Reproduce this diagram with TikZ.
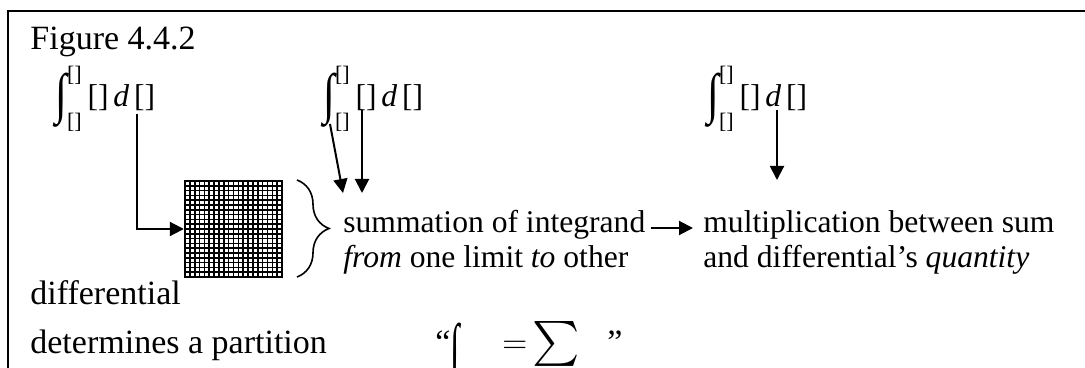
\documentclass[tikz,border=0pt]{standalone}
\usepackage{fontspec}
\setmainfont{Liberation Serif}
\usepackage{amsmath}
\usepackage{graphicx}
\usetikzlibrary{positioning,decorations.pathreplacing,arrows.meta}

\newcommand{\bigint}{\mathop{\vcenter{\hbox{\scalebox{1.35}[1.75]{∫}}}}\nolimits}
\newcommand{\intexpr}{$\bigint_{\text{[]}}^{\text{[]}}\text{[]}\,\textit{d}\,\text{[]}$}

\begin{document}
\begin{tikzpicture}[
    x=0.5pt, y=-0.5pt,
    txt/.style={inner sep=0pt, anchor=base west, text height=10pt, text depth=2.5pt,
                font=\fontsize{15.8}{17.5}\selectfont},
    big/.style={txt, font=\fontsize{17}{19}\selectfont},
    arr/.style={-{Triangle[length=7pt,width=7pt]}, line width=1pt},
    cell/.style={line width=0.8pt}
  ]
    \useasboundingbox (0,0) rectangle (1085,368);
    \draw[line width=1pt] (8,368) -- (8,11) -- (1085,11);

    \node[big] (fig) at (30,50) {Figure 4.4.2};
    \node[txt, text height=, text depth=] (int1) at (55,107) {\intexpr};
    \node[txt, text height=, text depth=] (int2) at (323,107) {\intexpr};
    \node[txt, text height=, text depth=] (int3) at (707,107) {\intexpr};

    % partition square
    \node[draw, line width=1.2pt, inner sep=0pt, minimum width=48.5pt,
          minimum height=48pt] (grid) at (233.5,229) {};
    \foreach \i in {1,...,19} {
      \draw[cell] (185+\i*4.85,181) -- (185+\i*4.85,277);
      \draw[cell] (185,181+\i*4.8) -- (282,181+\i*4.8);
    }
    \draw[line width=0.8pt, decorate, decoration={brace, amplitude=16pt}]
      (297,180) -- (297,277);

    \node[txt] (sum1) at (343,233) {summation of integrand};
    \node[txt] (sum2) at (343,268) {\textit{from} one limit \textit{to} other};
    \node[txt] (mul1) at (703,233) {multiplication between sum};
    \node[txt] (mul2) at (703,268) {and differential’s \textit{quantity}};
    \node[big] (diff1) at (30,305) {differential};
    \node[big] (diff2) at (30,353) {determines a partition};
    \node[big, text height=, text depth=] (quote) at (435,353)
      {“\raisebox{-1.2ex}{\scalebox{1.0}[2.0]{∫}}\hspace{1.25em}$=$\,\raisebox{-0.15ex}{\scalebox{1.3}{$\sum$}}\hspace{0.8em}”};

    % connectors
    \coordinate (d1) at (137,114);
    \coordinate (lo2) at (330,124);
    \coordinate (d2) at (362,110);
    \coordinate (t2a) at (343,193);
    \coordinate (t2b) at (362,193);
    \coordinate (d3) at (777,110);
    \coordinate (t3) at (777,180);
    \draw[arr] (d1) |- (grid.west);
    \draw[arr] (lo2) -- (t2a);
    \draw[arr] (d2) -- (t2b);
    \draw[arr] (d3) -- (t3);
    \draw[arr, shorten <=2.5pt, shorten >=5pt]
      ([yshift=2.5pt]sum1.base east) -- ([yshift=2.5pt]sum1.base east -| mul1.west);
  \end{tikzpicture}
\end{document}
